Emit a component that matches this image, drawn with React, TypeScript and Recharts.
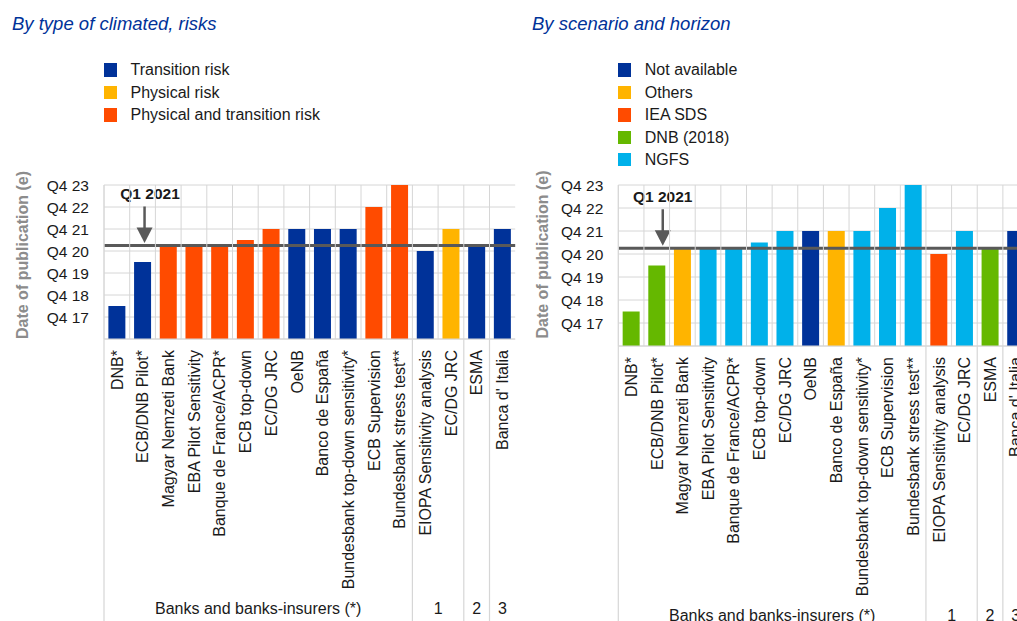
import { BarChart, Bar, Cell, XAxis, YAxis, CartesianGrid, ReferenceLine, ReferenceDot } from 'recharts';

const FONT = 'Arial, "Liberation Sans", Helvetica, sans-serif';

// institutions, in the order they appear on both panels
const institutions = [
    'DNB*',
    'ECB/DNB Pilot*',
    'Magyar Nemzeti Bank',
    'EBA Pilot Sensitivity',
    'Banque de France/ACPR*',
    'ECB top-down',
    'EC/DG JRC',
    'OeNB',
    'Banco de España',
    'Bundesbank top-down sensitivity*',
    'ECB Supervision',
    'Bundesbank stress test**',
    'EIOPA Sensitivity analysis',
    'EC/DG JRC',
    'ESMA',
    "Banca d' Italia",
];

// date of publication, in years (Q4 of year = whole number, Q1 next year = +0.25)
const publicationDate = [17.5, 19.5, 20.25, 20.25, 20.25, 20.5, 21, 21, 21, 21, 22, 23, 20, 21, 20.25, 21];

const riskType = ['T', 'T', 'PT', 'PT', 'PT', 'PT', 'PT', 'T', 'T', 'T', 'PT', 'PT', 'T', 'P', 'T', 'T'];
const scenario = ['DNB', 'DNB', 'OTH', 'NGFS', 'NGFS', 'NGFS', 'NGFS', 'NA', 'OTH', 'NGFS', 'NGFS', 'NGFS', 'IEA', 'NGFS', 'DNB', 'NA'];

const yTicks = [17, 18, 19, 20, 21, 22, 23];
const Q1_2021 = 20.25;

const sectorGroups = [
    { label: 'Banks and banks-insurers (*)', size: 12 },
    { label: '1', size: 2 },
    { label: '2', size: 1 },
    { label: '3', size: 1 },
];

const riskLegend = [
    { key: 'T', label: 'Transition risk', color: '#003299' },
    { key: 'P', label: 'Physical risk', color: '#FFB400' },
    { key: 'PT', label: 'Physical and transition risk', color: '#FF4B00' },
];

const scenarioLegend = [
    { key: 'NA', label: 'Not available', color: '#003299' },
    { key: 'OTH', label: 'Others', color: '#FFB400' },
    { key: 'IEA', label: 'IEA SDS', color: '#FF4B00' },
    { key: 'DNB', label: 'DNB (2018)', color: '#65B800' },
    { key: 'NGFS', label: 'NGFS', color: '#00B1EA' },
];

const GRID = '#d6d6d6';
const LINE = '#595959';

const rows = institutions.map((name, i) => ({ id: String(i), name, date: publicationDate[i] }));

function CategoryTick(props: any) {
    const { x, y, index, half, axisH, plotH } = props;
    const extras: any[] = [];
    let start = 0;
    sectorGroups.forEach((g, gi) => {
        const end = start + g.size - 1;
        if (index === start) {
            extras.push(
                <text key={'g' + gi} x={x + (g.size - 1) * half} y={y + 275} textAnchor="middle" fontSize={16} fill="#1a1a1a" fontFamily={FONT}>
                    {g.label}
                </text>
            );
        }
        if (index === end && end < institutions.length - 1) {
            extras.push(<line key={'s' + gi} x1={x + half} x2={x + half} y1={y} y2={y + axisH} stroke={GRID} strokeWidth={1.2} />);
        }
        start += g.size;
    });
    if (index === 0) {
        extras.push(<line key="left" x1={x - half} x2={x - half} y1={y} y2={y + axisH} stroke={GRID} strokeWidth={1.2} />);
    }
    return (
        <g>
            {/* vertical grid line at the left edge of the category band */}
            <line x1={x - half} x2={x - half} y1={y - plotH} y2={y} stroke={GRID} strokeWidth={1} />
            <text
                x={x}
                y={y + 11}
                dy="0.36em"
                transform={`rotate(-90, ${x}, ${y + 11})`}
                textAnchor="end"
                fontSize={16}
                fill="#1a1a1a"
                fontFamily={FONT}
            >
                {institutions[index]}
            </text>
            {extras}
        </g>
    );
}

function Q1Marker(props: any) {
    const { cx, cy, arrowDx, textDx } = props;
    const ax = cx + arrowDx;
    return (
        <g>
            <text x={cx + textDx} y={cy - 46.5} textAnchor="middle" fontSize={15.5} fontWeight="bold" fill="#1a1a1a" fontFamily={FONT}>
                Q1 2021
            </text>
            <line x1={ax} x2={ax} y1={cy - 39} y2={cy - 17} stroke={LINE} strokeWidth={2.5} />
            <polygon points={`${ax - 8},${cy - 18} ${ax + 8},${cy - 18} ${ax},${cy - 2.5}`} fill={LINE} />
        </g>
    );
}

function AxisTitle(props: any) {
    const { viewBox, dyCenter } = props;
    const x = viewBox.x + 22;
    const y = viewBox.y + viewBox.height / 2 + dyCenter;
    return (
        <text x={x} y={y} dy="0.36em" transform={`rotate(-90, ${x}, ${y})`} textAnchor="middle" fontSize={16} fontWeight="bold" fill="#8c8c8c" fontFamily={FONT}>
            Date of publication (e)
        </text>
    );
}

type PanelProps = {
    left: number;
    title: string;
    legend: { key: string; label: string; color: string }[];
    codes: string[];
    width: number;
    height: number;
    top: number;
    right: number;
    yAxisW: number;
    xAxisH: number;
    titleDy: number;
    arrowDx: number;
    textDx: number;
};

function Panel(p: PanelProps) {
    const plotW = p.width - p.yAxisW - p.right;
    const plotH = p.height - p.top - p.xAxisH;
    const half = plotW / institutions.length / 2;
    const colorOf = (code: string) => p.legend.find((l) => l.key === code)!.color;
    return (
        <div style={{ position: 'absolute', left: p.left, top: 0, width: p.width, height: p.height }}>
            <div style={{ position: 'absolute', left: 12, top: 13.6, fontSize: 18.5, lineHeight: '20px', fontStyle: 'italic', color: '#003299', whiteSpace: 'nowrap' }}>
                {p.title}
            </div>
            {p.legend.map((l, i) => (
                <div key={l.key} style={{ position: 'absolute', left: p.yAxisW - 0.5, top: 63.3 + i * 22.4, height: 14, whiteSpace: 'nowrap' }}>
                    <div style={{ position: 'absolute', left: 0, top: 0, width: 13.6, height: 13.6, background: l.color }} />
                    <div style={{ position: 'absolute', left: 27, top: -1, fontSize: 16, lineHeight: '16px', color: '#1a1a1a' }}>{l.label}</div>
                </div>
            ))}
            <div style={{ position: 'absolute', left: 0, top: 0 }}>
                <BarChart
                    width={p.width}
                    height={p.height}
                    data={rows}
                    margin={{ top: p.top, right: p.right, left: 0, bottom: 0 }}
                    barCategoryGap="17%"
                >
                    <CartesianGrid stroke={GRID} vertical={false} />
                    <XAxis
                        dataKey="id"
                        type="category"
                        interval={0}
                        height={p.xAxisH}
                        tickLine={false}
                        tickSize={0}
                        tickMargin={0}
                        axisLine={{ stroke: GRID }}
                        tick={(t: any) => <CategoryTick {...t} half={half} axisH={p.xAxisH} plotH={plotH} />}
                    />
                    <YAxis
                        type="number"
                        domain={[16, 23]}
                        ticks={yTicks}
                        interval={0}
                        width={p.yAxisW}
                        tickLine={false}
                        tickSize={0}
                        tickMargin={15}
                        axisLine={{ stroke: GRID }}
                        tick={{ fontSize: 15.5, fill: '#1a1a1a', fontFamily: FONT }}
                        tickFormatter={(v: number) => `Q4 ${v}`}
                        label={{ content: (lp: any) => <AxisTitle {...lp} dyCenter={p.titleDy} /> }}
                    />
                    <Bar dataKey="date" isAnimationActive={false}>
                        {rows.map((r, i) => (
                            <Cell key={r.id} fill={colorOf(p.codes[i])} />
                        ))}
                    </Bar>
                    <ReferenceLine y={Q1_2021} stroke={LINE} strokeWidth={3} />
                    <ReferenceDot
                        x="1"
                        y={Q1_2021}
                        r={0}
                        shape={(sp: any) => <Q1Marker {...sp} arrowDx={p.arrowDx} textDx={p.textDx} />}
                    />
                </BarChart>
            </div>
        </div>
    );
}

export default function App() {
    return (
        <div style={{ position: 'fixed', left: 0, top: 0, width: 1017, height: 621, overflow: 'hidden', background: '#fff', fontFamily: FONT }}>
            <Panel
                left={0}
                title="By type of climated, risks"
                legend={riskLegend}
                codes={riskType}
                width={520}
                height={621}
                top={185}
                right={4.8}
                yAxisW={104}
                xAxisH={282}
                titleDy={-7}
                arrowDx={2}
                textDx={7.5}
            />
            <Panel
                left={520}
                title="By scenario and horizon"
                legend={scenarioLegend}
                codes={scenario}
                width={520}
                height={640}
                top={185}
                right={11.5}
                yAxisW={98.3}
                xAxisH={294}
                titleDy={-11}
                arrowDx={6}
                textDx={6}
            />
        </div>
    );
}
